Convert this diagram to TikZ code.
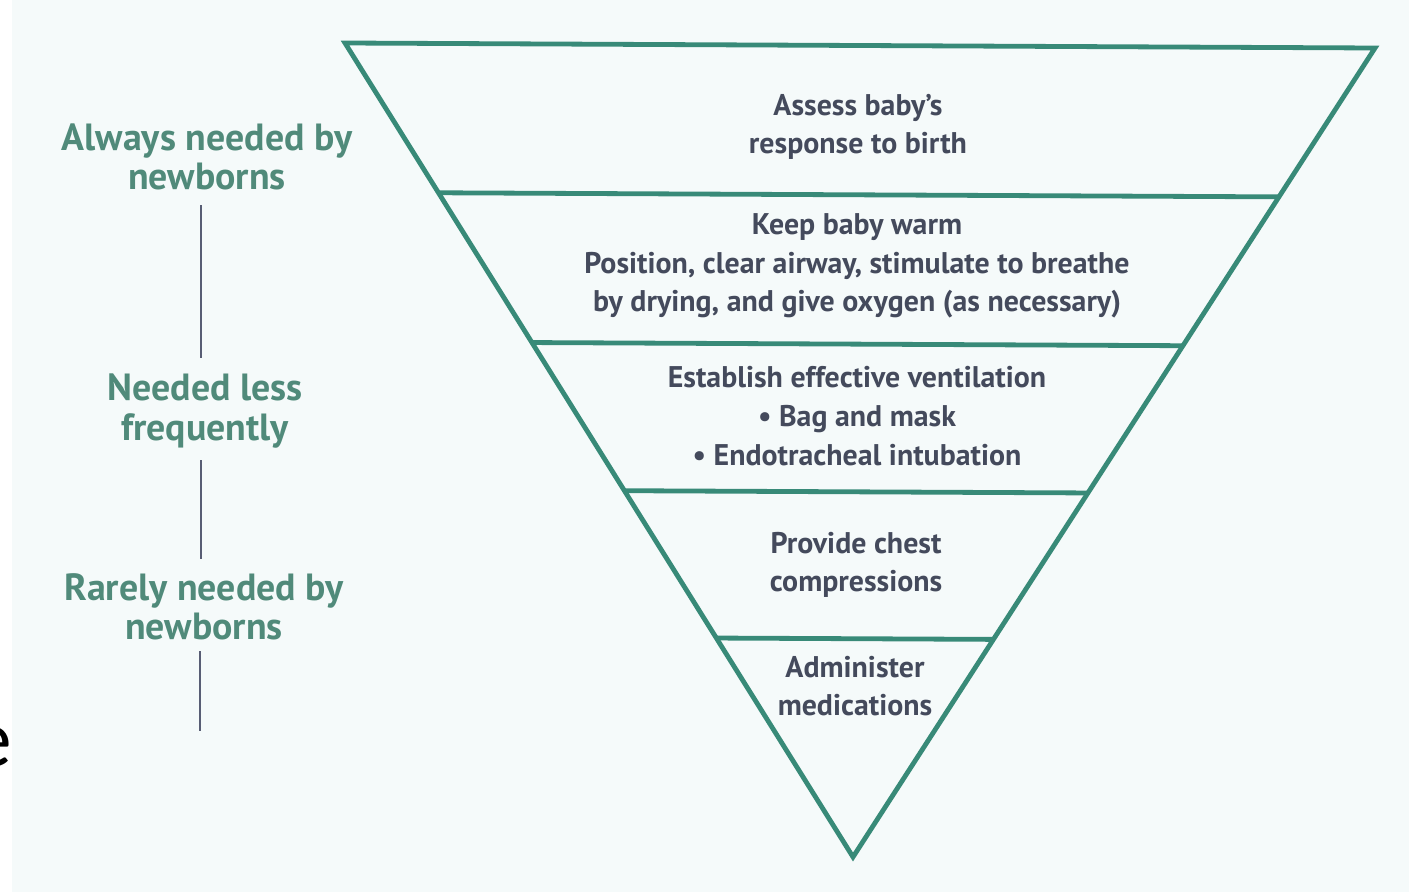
\documentclass[tikz,border=0pt]{standalone}
\usepackage{fontspec}
\setmainfont{PT Sans}
\newfontfamily\letterfont{Carlito}
\usetikzlibrary{calc}
\definecolor{paper}{RGB}{245,250,250}
\definecolor{tealline}{RGB}{56,138,120}
\definecolor{labelgreen}{RGB}{80,138,122}
\definecolor{stepink}{RGB}{68,74,92}
\definecolor{rulegray}{RGB}{88,93,116}
\begin{document}
\begin{tikzpicture}[x=0.75pt,y=-0.75pt,
  tri/.style={draw=tealline,line width=3.6pt,line join=miter},
  steptext/.style={align=center,text=stepink,inner sep=0pt,
    font=\bfseries\fontsize{22.4}{29}\selectfont},
  freqlabel/.style={align=center,text=labelgreen,inner sep=0pt,
    font=\bfseries\fontsize{28.4}{29.5}\selectfont},
  freqrule/.style={draw=rulegray,line width=2.2pt}]
\useasboundingbox (0,0) rectangle (1409,892);
\fill[white] (0,0) rectangle (1409,892);
\fill[paper] (12,0) rectangle (1409,892);

% inverted triangle and its bands
\coordinate (TL) at (345,43);
\coordinate (TR) at (1375,48);
\coordinate (A) at (853,857);
\draw[tri] (TL) -- (TR) -- (A) -- cycle;
\foreach \t [count=\i] in {0.184,0.368,0.55,0.731} {
  \coordinate (L\i) at ($(TL)!\t!(A)$);
  \coordinate (R\i) at ($(TR)!\t!(A)$);
  \draw[tri] (L\i) -- (R\i);
}

% band texts
\node[steptext] (s1) at (858,127) {Assess baby’s\\response to birth};
\node[steptext] (s2) at (857,266) {Keep baby warm\\Position, clear airway, stimulate to breathe\\by drying, and give oxygen (as necessary)};
\node[steptext] (s3) at (857,416) {Establish effective ventilation\\• Bag and mask\\• Endotracheal intubation};
\node[steptext] (s4) at (856,565) {Provide chest\\compressions};
\node[steptext] (s5) at (855,686) {Administer\\medications};

% frequency scale on the left
\node[freqlabel] (f1) at (207,157) {Always needed by\\newborns};
\node[freqlabel] (f2) at (205,411) {Needed less\\frequently};
\node[freqlabel] (f3) at (204,607) {Rarely needed by\\newborns};
\coordinate (r1a) at (201,205);
\coordinate (r1b) at (201,358);
\coordinate (r2a) at (201,460);
\coordinate (r2b) at (201,559);
\coordinate (r3a) at (200,651);
\coordinate (r3b) at (200,731);
\draw[freqrule] (r1a) -- (r1b);
\draw[freqrule] (r2a) -- (r2b);
\draw[freqrule] (r3a) -- (r3b);

% letter cut by the left edge
\node[anchor=base east,inner sep=0pt,text=black,
  font=\letterfont\fontsize{61}{61}\selectfont] (stray) at (12,766) {e};
\end{tikzpicture}
\end{document}
